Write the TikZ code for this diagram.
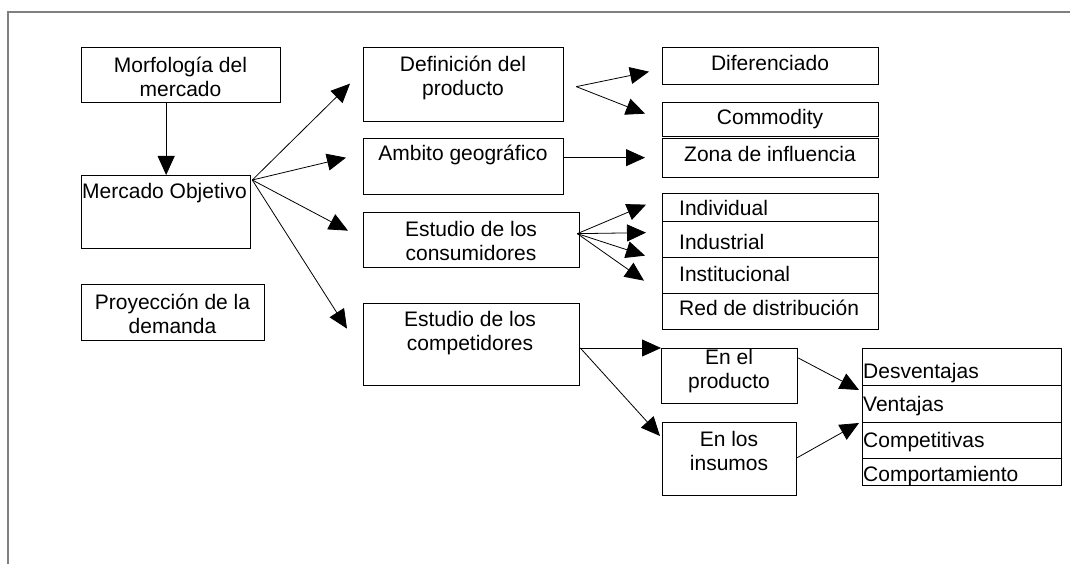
\documentclass[tikz,border=0pt]{standalone}
\usepackage{fontspec}
\setmainfont{Liberation Sans}
\usetikzlibrary{arrows.meta,calc}
\definecolor{framegray}{RGB}{128,128,128}
\begin{document}
\begin{tikzpicture}[x=1pt,y=-1pt,
 box/.style={draw, line width=1.3pt, inner sep=0pt, anchor=north west},
 txt/.style={inner sep=0pt, align=center, font=\fontsize{21}{24.5}\selectfont},
 ltxt/.style={inner sep=0pt, anchor=west, font=\fontsize{21}{24.5}\selectfont},
 conn/.style={line width=0.8pt, -{Triangle[length=19pt,width=17pt]}}]
\useasboundingbox (0,0) rectangle (1070,564);
\draw[framegray, line width=2pt] (8,564) -- (8,12) -- (1070,12);
% boxes
\node[box, minimum width=199pt, minimum height=55pt] (mor) at (81,47) {};
\node[box, minimum width=169pt, minimum height=73pt] (mo) at (81,175) {};
\node[box, minimum width=183pt, minimum height=56pt] (proy) at (81,284) {};
\node[box, minimum width=200pt, minimum height=74pt] (def) at (363,47) {};
\node[box, minimum width=200pt, minimum height=56pt] (amb) at (363,138) {};
\node[box, minimum width=216pt, minimum height=55pt] (cons) at (363,212) {};
\node[box, minimum width=216pt, minimum height=82pt] (comp) at (363,303) {};
\node[box, minimum width=216pt, minimum height=37pt] (dif) at (662,47) {};
\node[box, minimum width=216pt, minimum height=34pt] (comm) at (662,102) {};
\node[box, minimum width=216pt, minimum height=39pt] (zona) at (662,138) {};
\node[box, minimum width=216pt, minimum height=28pt] (ind) at (662,193) {};
\node[box, minimum width=216pt, minimum height=36pt] (indu) at (662,221) {};
\node[box, minimum width=216pt, minimum height=36pt] (inst) at (662,257) {};
\node[box, minimum width=216pt, minimum height=36pt] (red) at (662,293) {};
\node[box, minimum width=136pt, minimum height=55pt] (enp) at (661,348) {};
\node[box, minimum width=134pt, minimum height=73pt] (eni) at (662,422) {};
\node[box, minimum width=199pt, minimum height=37pt] (desv) at (862,348) {};
\node[box, minimum width=199pt, minimum height=37pt] (vent) at (862,385) {};
\node[box, minimum width=199pt, minimum height=36pt] (compt) at (862,422) {};
\node[box, minimum width=199pt, minimum height=27pt] (compo) at (862,458) {};
% texts
\node[txt] (tmor) at (180.5,77) {Morfología del\\mercado};
\node[txt] (tmo) at (164.5,193) {Mercado Objetivo};
\node[txt] (tproy) at (172.5,314) {Proyección de la\\demanda};
\node[txt] (tdef) at (463,78) {Definición del\\producto};
\node[txt] (tamb) at (463,155) {Ambito geográfico};
\node[txt] (tcons) at (471,241) {Estudio de los\\consumidores};
\node[txt] (tcomp) at (470,333) {Estudio de los\\competidores};
\node[txt] (tdif) at (770,63) {Diferenciado};
\node[txt] (tcomm) at (770,119) {Commodity};
\node[txt] (tzona) at (770,154) {Zona de influencia};
\node[ltxt] (tind) at (679,208) {Individual};
\node[ltxt] (tindu) at (679,242) {Industrial};
\node[ltxt] (tinst) at (679,274) {Institucional};
\node[ltxt] (tred) at (679,308) {Red de distribución};
\node[txt] (tenp) at (729,371) {En el\\producto};
\node[txt] (teni) at (729,451) {En los\\insumos};
\node[ltxt] (tdesv) at (863,373) {Desventajas};
\node[ltxt] (tvent) at (863,406) {Ventajas};
\node[ltxt] (tcompt) at (863,442) {Competitivas};
\node[ltxt] (tcompo) at (863,476) {Comportamiento};
% connectors
\draw[conn] (mo.north |- mor.south) -- (mo.north);
\coordinate (mos) at ($(mo.north east)+(1,5)$);
\draw[conn] (mos) -- ($(def.west)+(-13,-1)$);
\draw[conn] (mos) -- ($(amb.west)+(-17,-9)$);
\draw[conn] (mos) -- ($(cons.west)+(-15,-9.5)$);
\draw[conn] (mos) -- ($(comp.west)+(-16,-16)$);
\coordinate (defs) at ($(def.east)+(12,2)$);
\draw[conn] (defs) -- ($(dif.west)+(-13,5.5)$);
\draw[conn] (defs) -- ($(comm.west)+(-17,-6)$);
\draw[conn] ($(amb.east)+(0,-9)$) -- ($(zona.west)+(-17,-0.5)$);
\coordinate (conss) at ($(cons.east)+(-3,-6.5)$);
\draw[conn] (conss) -- ($(ind.west)+(-16,-3)$);
\draw[conn] (conss) -- ($(indu.west)+(-16,-7)$);
\draw[conn] (conss) -- ($(indu.west)+(-17,16)$);
\draw[conn] (conss) -- ($(inst.west)+(-18,5)$);
\coordinate (comps) at (comp.east |- enp.north west);
\draw[conn] (comps) -- (enp.north west);
\draw[conn] (comps) -- ($(eni.north west)+(-2,14)$);
\draw[conn] ($(enp.north east)+(0,10)$) -- ($(vent.north west)+(-3,5)$);
\draw[conn] ($(eni.east)+(0,-1.5)$) -- ($(compt.north west)+(-3,1)$);
\end{tikzpicture}
\end{document}
